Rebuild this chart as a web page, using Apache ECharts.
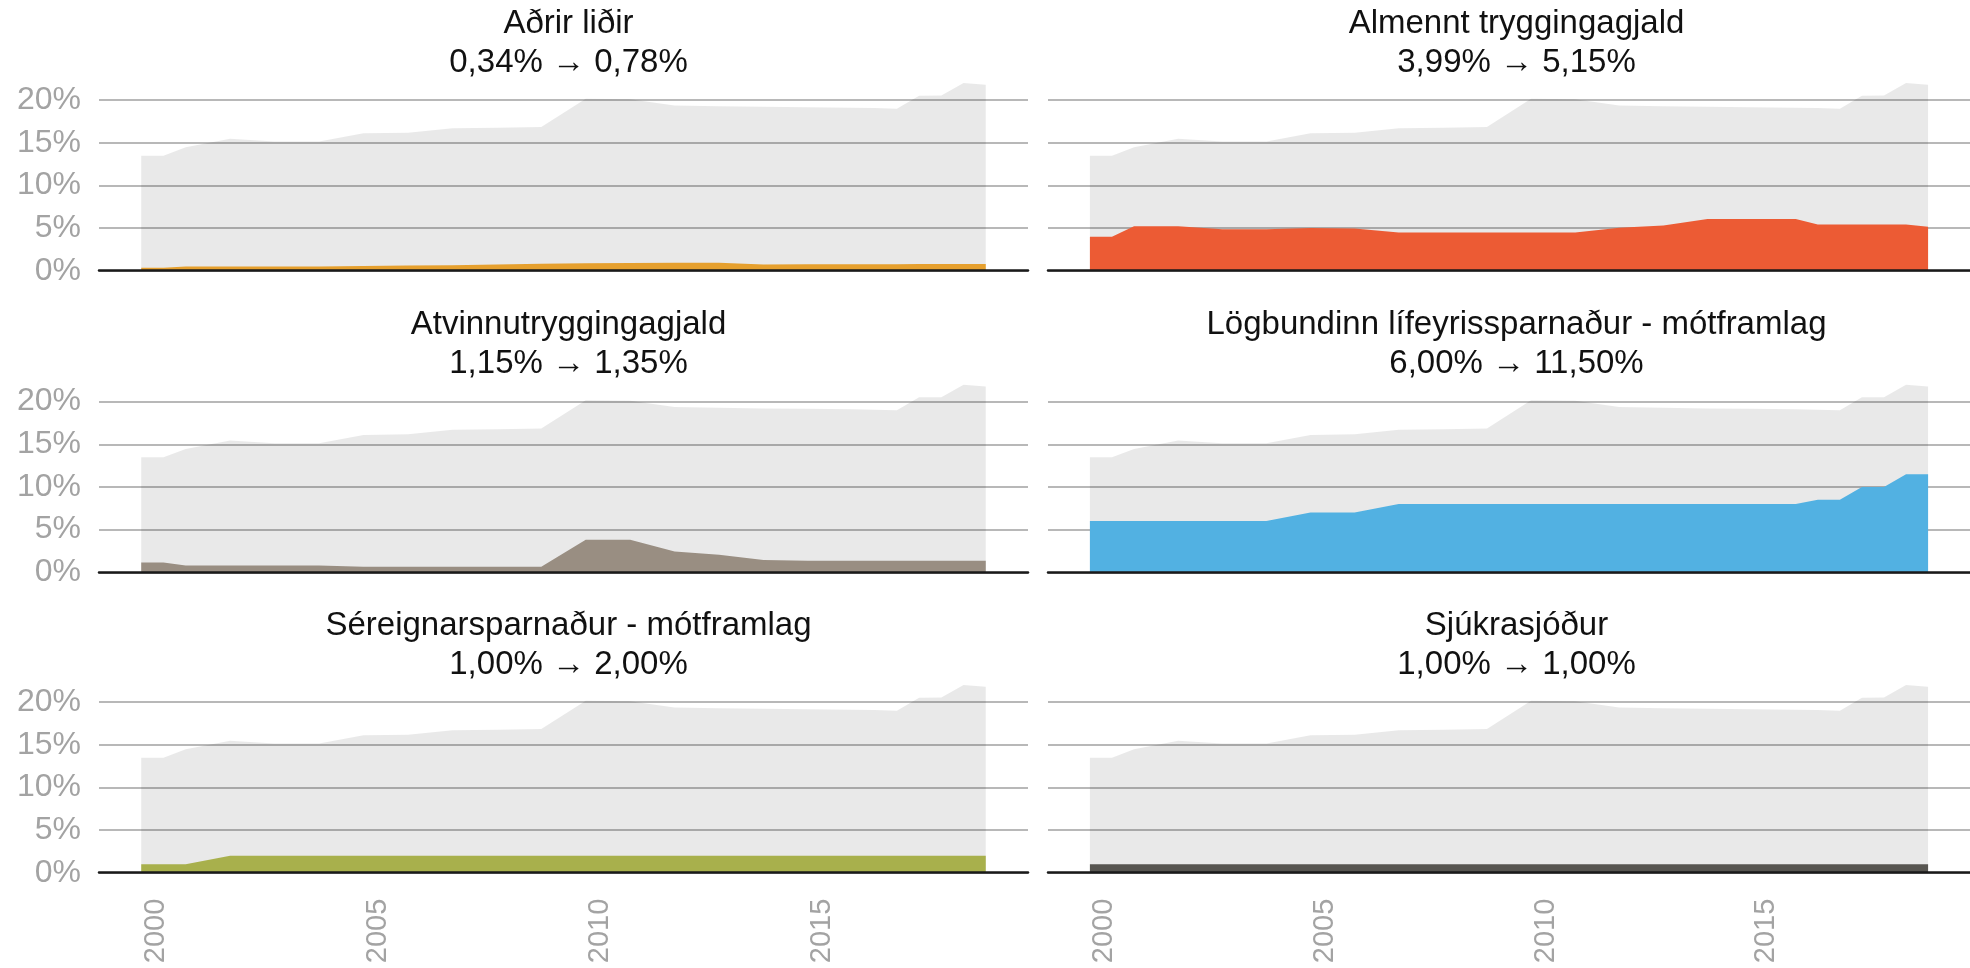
<!DOCTYPE html>
<html>
<head>
<meta charset="utf-8">
<script src="https://cdn.jsdelivr.net/npm/echarts@6.0.0/dist/echarts.min.js"></script>
<style>
  html, body { margin: 0; padding: 0; background: #fff; }
  #chart { width: 1970px; height: 968px; }
</style>
</head>
<body>
<div id="chart"></div>
<script>
// data (percent of wages)
var years = [2000, 2000.5, 2001, 2002, 2003, 2004, 2005, 2006, 2007, 2008, 2009, 2010,
  2011, 2012, 2013, 2014, 2015, 2016, 2016.5, 2017, 2017.5, 2018, 2018.5, 2019];

var total = [13.48, 13.48, 14.45, 15.45, 15.13, 15.13, 16.1, 16.17, 16.7, 16.75, 16.85, 20.15,
  20.1, 19.36, 19.28, 19.2, 19.15, 19.1, 19.05, 18.98, 20.5, 20.52, 21.98, 21.78];

var adrirLidir = [0.34, 0.34, 0.48, 0.5, 0.5, 0.5, 0.55, 0.6, 0.65, 0.72, 0.8, 0.88,
  0.9, 0.92, 0.92, 0.74, 0.76, 0.77, 0.77, 0.77, 0.78, 0.78, 0.78, 0.78];
var almenntTrygg = [3.99, 3.99, 5.2, 5.2, 4.85, 4.85, 5.0, 4.95, 4.48, 4.48, 4.48, 4.48,
  4.48, 5.03, 5.3, 6.05, 6.05, 6.05, 5.4, 5.4, 5.4, 5.4, 5.4, 5.15];
var atvinnuTrygg = [1.15, 1.15, 0.8, 0.8, 0.8, 0.8, 0.65, 0.65, 0.65, 0.65, 0.65, 3.81,
  3.81, 2.45, 2.05, 1.45, 1.35, 1.35, 1.35, 1.35, 1.35, 1.35, 1.35, 1.35];
var lifeyrir = [6, 6, 6, 6, 6, 6, 7, 7, 8, 8, 8, 8,
  8, 8, 8, 8, 8, 8, 8.5, 8.5, 10, 10, 11.5, 11.5];
var sereign = [1, 1, 1, 2, 2, 2, 2, 2, 2, 2, 2, 2,
  2, 2, 2, 2, 2, 2, 2, 2, 2, 2, 2, 2];
var sjukrasjodur = [1, 1, 1, 1, 1, 1, 1, 1, 1, 1, 1, 1,
  1, 1, 1, 1, 1, 1, 1, 1, 1, 1, 1, 1];

var panelNames = ['Aðrir liðir', 'Almennt tryggingagjald', 'Atvinnutryggingagjald',
  'Lögbundinn lífeyrissparnaður - mótframlag', 'Séreignarsparnaður - mótframlag', 'Sjúkrasjóður'];
var panelChange = ['0,34% → 0,78%', '3,99% → 5,15%', '1,15% → 1,35%',
  '6,00% → 11,50%', '1,00% → 2,00%', '1,00% → 1,00%'];
var panelValues = [adrirLidir, almenntTrygg, atvinnuTrygg, lifeyrir, sereign, sjukrasjodur];
var panelColors = ['#e6a02e', '#ec5b34', '#998e82', '#52b1e2', '#a8b04c', '#575550'];

var yTicks = [0, 5, 10, 15, 20];
var xTicks = [2000, 2005, 2010, 2015];

// layout
var font = '"Liberation Sans", Arial, sans-serif';
var colLeft = [99, 1048];
var colWidth = [929, 927];
var rowZero = [270.7, 572.3, 872.7];
var pxPerPct = 8.535;
var yMax = 23;

function toPairs(vals) {
  return years.map(function (y, i) { return [y, vals[i]]; });
}

var grids = [], xAxes = [], yAxes = [], series = [], titles = [];

for (var i = 0; i < 6; i++) {
  var row = Math.floor(i / 2), col = i % 2;
  var h = yMax * pxPerPct;
  grids.push({
    left: colLeft[col], top: rowZero[row] - h,
    width: colWidth[col], height: h
  });
  titles.push({
    text: panelNames[i] + '\n' + panelChange[i],
    left: colLeft[col] + colWidth[col] / 2,
    top: rowZero[row] - 270.7 - 1,
    textAlign: 'center',
    textStyle: { fontFamily: font, fontSize: 33, fontWeight: 'normal', color: '#111', lineHeight: 39 }
  });
  xAxes.push({
    type: 'value', gridIndex: i, min: 1999.05, max: 2019.95, z: 5,
    axisLine: { show: true, onZero: false, lineStyle: { color: '#1a1a1a', width: 2.5 } },
    axisTick: { show: false },
    splitLine: { show: false },
    axisLabel: {
      show: row === 2, customValues: xTicks, rotate: 90, verticalAlign: 'top',
      formatter: function (v) { return String(v); },
      margin: 26, color: '#a3a3a3', fontSize: 29, fontFamily: font
    }
  });
  yAxes.push({
    type: 'value', gridIndex: i, min: 0, max: yMax, interval: 5,
    axisLine: { show: false },
    axisTick: { show: false },
    splitLine: { show: true, showMaxLine: false, lineStyle: { color: '#b8b8b8', width: 2 } },
    axisLabel: {
      show: col === 0, customValues: yTicks, formatter: '{value}%',
      margin: 18, color: '#a3a3a3', fontSize: 32, fontFamily: font
    }
  });
  // total in grey behind
  series.push({
    type: 'line', xAxisIndex: i, yAxisIndex: i, data: toPairs(total),
    symbol: 'none', silent: true,
    lineStyle: { width: 0, opacity: 0 },
    areaStyle: { color: 'rgba(0,0,0,0.085)', opacity: 1 }
  });
  series.push({
    type: 'line', xAxisIndex: i, yAxisIndex: i, data: toPairs(panelValues[i]),
    symbol: 'none', silent: true,
    lineStyle: { width: 0, opacity: 0 },
    areaStyle: { color: panelColors[i], opacity: 1 }
  });
}

var chart = echarts.init(document.getElementById('chart'));
chart.setOption({
  animation: false,
  backgroundColor: '#fff',
  title: titles,
  grid: grids,
  xAxis: xAxes,
  yAxis: yAxes,
  series: series
});
</script>
</body>
</html>
